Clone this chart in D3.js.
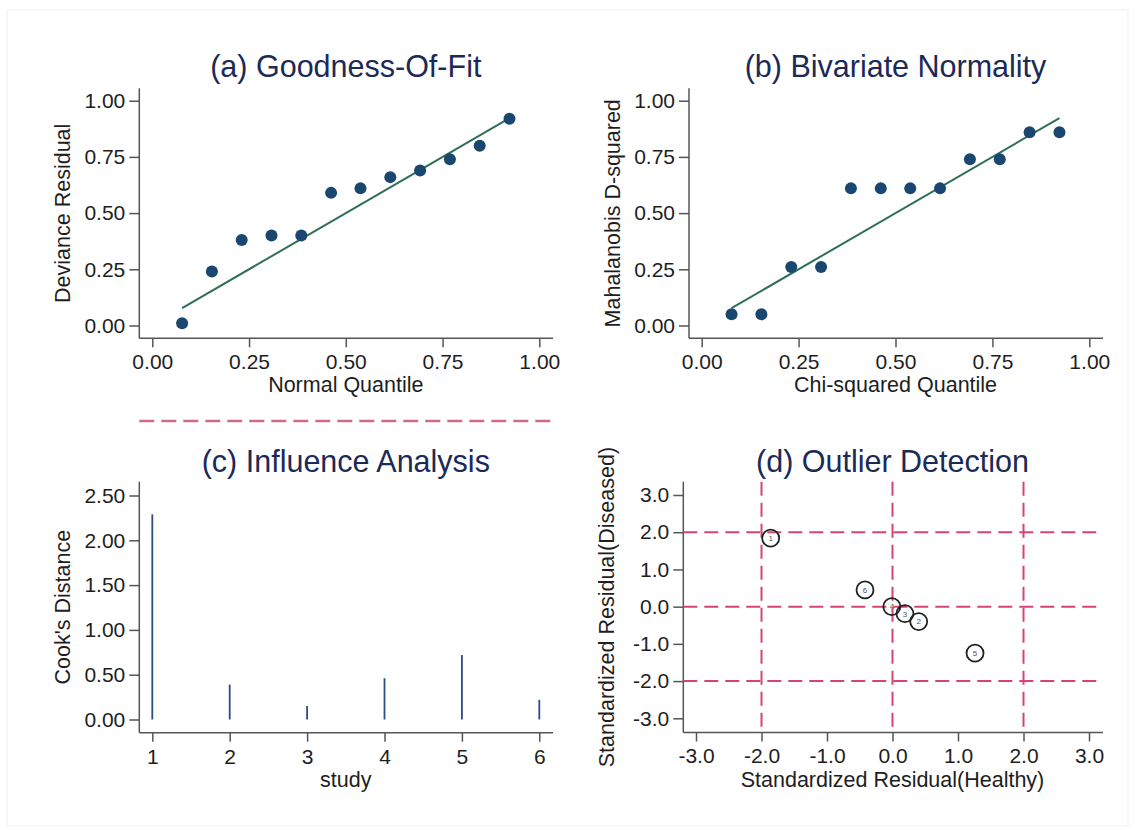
<!DOCTYPE html>
<html>
<head>
<meta charset="utf-8">
<script src="https://cdn.jsdelivr.net/npm/d3@7"></script>
<style>
  html, body { margin: 0; padding: 0; background: #fff; }
  svg { display: block; font-family: "Liberation Sans", Arial, Helvetica, sans-serif; }
</style>
</head>
<body>
<div id="chart"></div>
<script>
// quantile positions shared by panels (a) and (b)
const quantiles = [0.077, 0.154, 0.231, 0.308, 0.385, 0.462, 0.538, 0.615, 0.692, 0.769, 0.846, 0.923];
const devianceResidual = [0.01, 0.24, 0.38, 0.40, 0.40, 0.59, 0.61, 0.66, 0.69, 0.74, 0.80, 0.92];
const mahalanobisD2 = [0.05, 0.05, 0.26, 0.26, 0.61, 0.61, 0.61, 0.61, 0.74, 0.74, 0.86, 0.86];
const fitLineX = [0.077, 0.923];
const fitLineY = [0.077, 0.923];
const quantileTicks = [0, 0.25, 0.5, 0.75, 1];

// panel (c)
const studies = [1, 2, 3, 4, 5, 6];
const cooksDistance = [2.29, 0.39, 0.15, 0.46, 0.72, 0.22];
const cookTicks = [0, 0.5, 1, 1.5, 2, 2.5];

// panel (d)
const residHealthy = [-1.86, 0.40, 0.19, -0.01, 1.26, -0.42];
const residDiseased = [1.84, -0.40, -0.19, 0.00, -1.25, 0.45];
const residTicks = [-3, -2, -1, 0, 1, 2, 3];
const refLines = [-2, 0, 2];

const W = 1135, H = 830;
const navy = '#1a476f', fitColor = '#2f6f57', spikeColor = '#2c4c86';
const refColor = '#d4466f', axisColor = '#555', textColor = '#1e1e1e', titleColor = '#1b2a57';

const svg = d3.select('#chart').append('svg')
  .attr('width', W).attr('height', H);

// faint outer frame
svg.append('rect')
  .attr('x', 7).attr('y', 10).attr('width', 1121).attr('height', 816)
  .attr('fill', 'none').attr('stroke', '#efefef').attr('stroke-width', 1);

// panel geometry: tick-range in pixels + axis line extents
const panels = {
  a: { xr: [152.3, 539.3], yr: [325.5, 100.7], left: 139.3, right: 553, top: 88.3, bottom: 338.3, titleY: 77 },
  b: { xr: [701.7, 1089.3], yr: [325.5, 100.7], left: 689, right: 1103, top: 88.3, bottom: 338.3, titleY: 77 },
  c: { xr: [152.3, 539.3], yr: [719.5, 495.5], left: 139.3, right: 553, top: 481.7, bottom: 732.7, titleY: 472 },
  d: { xr: [696, 1089], yr: [718.3, 495], left: 683.3, right: 1103, top: 481.7, bottom: 732.5, titleY: 472 }
};

function drawFrame(p, x, y, xTicks, yTicks, xFmt, yFmt, title, xTitle, yTitle) {
  const g = svg.append('g');

  // title
  g.append('text')
    .attr('x', (p.xr[0] + p.xr[1]) / 2)
    .attr('y', p.titleY)
    .attr('text-anchor', 'middle')
    .attr('fill', titleColor)
    .style('font-size', '30.5px')
    .text(title);

  // x axis
  const gx = g.append('g')
    .attr('transform', `translate(0,${p.bottom})`)
    .call(d3.axisBottom(x).tickValues(xTicks).tickFormat(xFmt).tickSize(9).tickPadding(7));
  gx.select('.domain').remove();
  gx.selectAll('line').attr('stroke', axisColor).attr('stroke-width', 1.5);
  gx.selectAll('text').attr('fill', textColor).style('font-size', '21px')
    .style('font-family', '"Liberation Sans", Arial, sans-serif');

  // y axis
  const gy = g.append('g')
    .attr('transform', `translate(${p.left},0)`)
    .call(d3.axisLeft(y).tickValues(yTicks).tickFormat(yFmt).tickSize(10).tickPadding(4));
  gy.select('.domain').remove();
  gy.selectAll('line').attr('stroke', axisColor).attr('stroke-width', 1.5);
  gy.selectAll('text').attr('fill', textColor).style('font-size', '21px')
    .style('font-family', '"Liberation Sans", Arial, sans-serif');

  // axis lines
  g.append('line')
    .attr('x1', p.left).attr('x2', p.right).attr('y1', p.bottom).attr('y2', p.bottom)
    .attr('stroke', axisColor).attr('stroke-width', 1.5);
  g.append('line')
    .attr('x1', p.left).attr('x2', p.left).attr('y1', p.top).attr('y2', p.bottom)
    .attr('stroke', axisColor).attr('stroke-width', 1.5);

  // axis titles
  g.append('text')
    .attr('x', (p.xr[0] + p.xr[1]) / 2)
    .attr('y', p.bottom + 54)
    .attr('text-anchor', 'middle')
    .attr('fill', textColor)
    .style('font-size', '21.5px')
    .text(xTitle);

  g.append('text')
    .attr('transform', `translate(${p.left - 69.5},${(p.top + p.bottom) / 2}) rotate(-90)`)
    .attr('text-anchor', 'middle')
    .attr('fill', textColor)
    .style('font-size', '21.5px')
    .text(yTitle);

  return g;
}

// plain hyphen for negatives, like the original
const fmt2 = v => d3.format('.2f')(v).replace('\u2212', '-');
const fmt1 = v => d3.format('.1f')(v).replace('\u2212', '-');

// (a) Goodness-Of-Fit
{
  const p = panels.a;
  const x = d3.scaleLinear().domain([0, 1]).range(p.xr);
  const y = d3.scaleLinear().domain([0, 1]).range(p.yr);
  const g = drawFrame(p, x, y, quantileTicks, quantileTicks, fmt2, fmt2,
    '(a) Goodness-Of-Fit', 'Normal Quantile', 'Deviance Residual');
  g.append('path')
    .datum(fitLineX.map((v, i) => [v, fitLineY[i]]))
    .attr('fill', 'none').attr('stroke', fitColor).attr('stroke-width', 2)
    .attr('d', d3.line().x(d => x(d[0])).y(d => y(d[1])));
  g.selectAll('circle.pt')
    .data(quantiles.map((q, i) => [q, devianceResidual[i]]))
    .enter().append('circle')
    .attr('cx', d => x(d[0])).attr('cy', d => y(d[1]))
    .attr('r', 6).attr('fill', navy);
}

// (b) Bivariate Normality
{
  const p = panels.b;
  const x = d3.scaleLinear().domain([0, 1]).range(p.xr);
  const y = d3.scaleLinear().domain([0, 1]).range(p.yr);
  const g = drawFrame(p, x, y, quantileTicks, quantileTicks, fmt2, fmt2,
    '(b) Bivariate Normality', 'Chi-squared Quantile', 'Mahalanobis D-squared');
  g.append('path')
    .datum(fitLineX.map((v, i) => [v, fitLineY[i]]))
    .attr('fill', 'none').attr('stroke', fitColor).attr('stroke-width', 2)
    .attr('d', d3.line().x(d => x(d[0])).y(d => y(d[1])));
  g.selectAll('circle.pt')
    .data(quantiles.map((q, i) => [q, mahalanobisD2[i]]))
    .enter().append('circle')
    .attr('cx', d => x(d[0])).attr('cy', d => y(d[1]))
    .attr('r', 6).attr('fill', navy);
}

// dashed divider under (a)
svg.append('line')
  .attr('x1', panels.a.left).attr('x2', panels.a.right)
  .attr('y1', 421).attr('y2', 421)
  .attr('stroke', '#d06a8a').attr('stroke-width', 2.5)
  .attr('stroke-dasharray', '15,7');

// (c) Influence Analysis
{
  const p = panels.c;
  const x = d3.scaleLinear().domain([1, 6]).range(p.xr);
  const y = d3.scaleLinear().domain([0, 2.5]).range(p.yr);
  const g = drawFrame(p, x, y, studies, cookTicks, d3.format('d'), fmt2,
    '(c) Influence Analysis', 'study', "Cook's Distance");
  g.selectAll('line.spike')
    .data(studies.map((s, i) => [s, cooksDistance[i]]))
    .enter().append('line')
    .attr('class', 'spike')
    .attr('x1', d => x(d[0])).attr('x2', d => x(d[0]))
    .attr('y1', y(0)).attr('y2', d => y(d[1]))
    .attr('stroke', spikeColor).attr('stroke-width', 1.8);
}

// (d) Outlier Detection
{
  const p = panels.d;
  const x = d3.scaleLinear().domain([-3, 3]).range(p.xr);
  const y = d3.scaleLinear().domain([-3, 3]).range(p.yr);
  const g = drawFrame(p, x, y, residTicks, residTicks, fmt1, fmt1,
    '(d) Outlier Detection', 'Standardized Residual(Healthy)', 'Standardized Residual(Diseased)');

  g.selectAll('line.vref')
    .data(refLines).enter().append('line')
    .attr('x1', d => x(d)).attr('x2', d => x(d))
    .attr('y1', p.top).attr('y2', p.bottom)
    .attr('stroke', refColor).attr('stroke-width', 2).attr('stroke-dasharray', '14,7');
  g.selectAll('line.href')
    .data(refLines).enter().append('line')
    .attr('x1', p.left).attr('x2', p.right)
    .attr('y1', d => y(d)).attr('y2', d => y(d))
    .attr('stroke', refColor).attr('stroke-width', 2).attr('stroke-dasharray', '14,7');

  const pts = studies.map((s, i) => ({ s, hx: residHealthy[i], dy: residDiseased[i] }));
  const pg = g.selectAll('g.pt').data(pts).enter().append('g')
    .attr('transform', d => `translate(${x(d.hx)},${y(d.dy)})`);
  pg.append('circle')
    .attr('r', 8.5).attr('fill', 'none')
    .attr('stroke', '#222').attr('stroke-width', 1.8);
  pg.append('text')
    .attr('text-anchor', 'middle').attr('dy', '0.35em')
    .attr('fill', '#555').style('font-size', '8px')
    .text(d => d.s);
}
</script>
</body>
</html>
